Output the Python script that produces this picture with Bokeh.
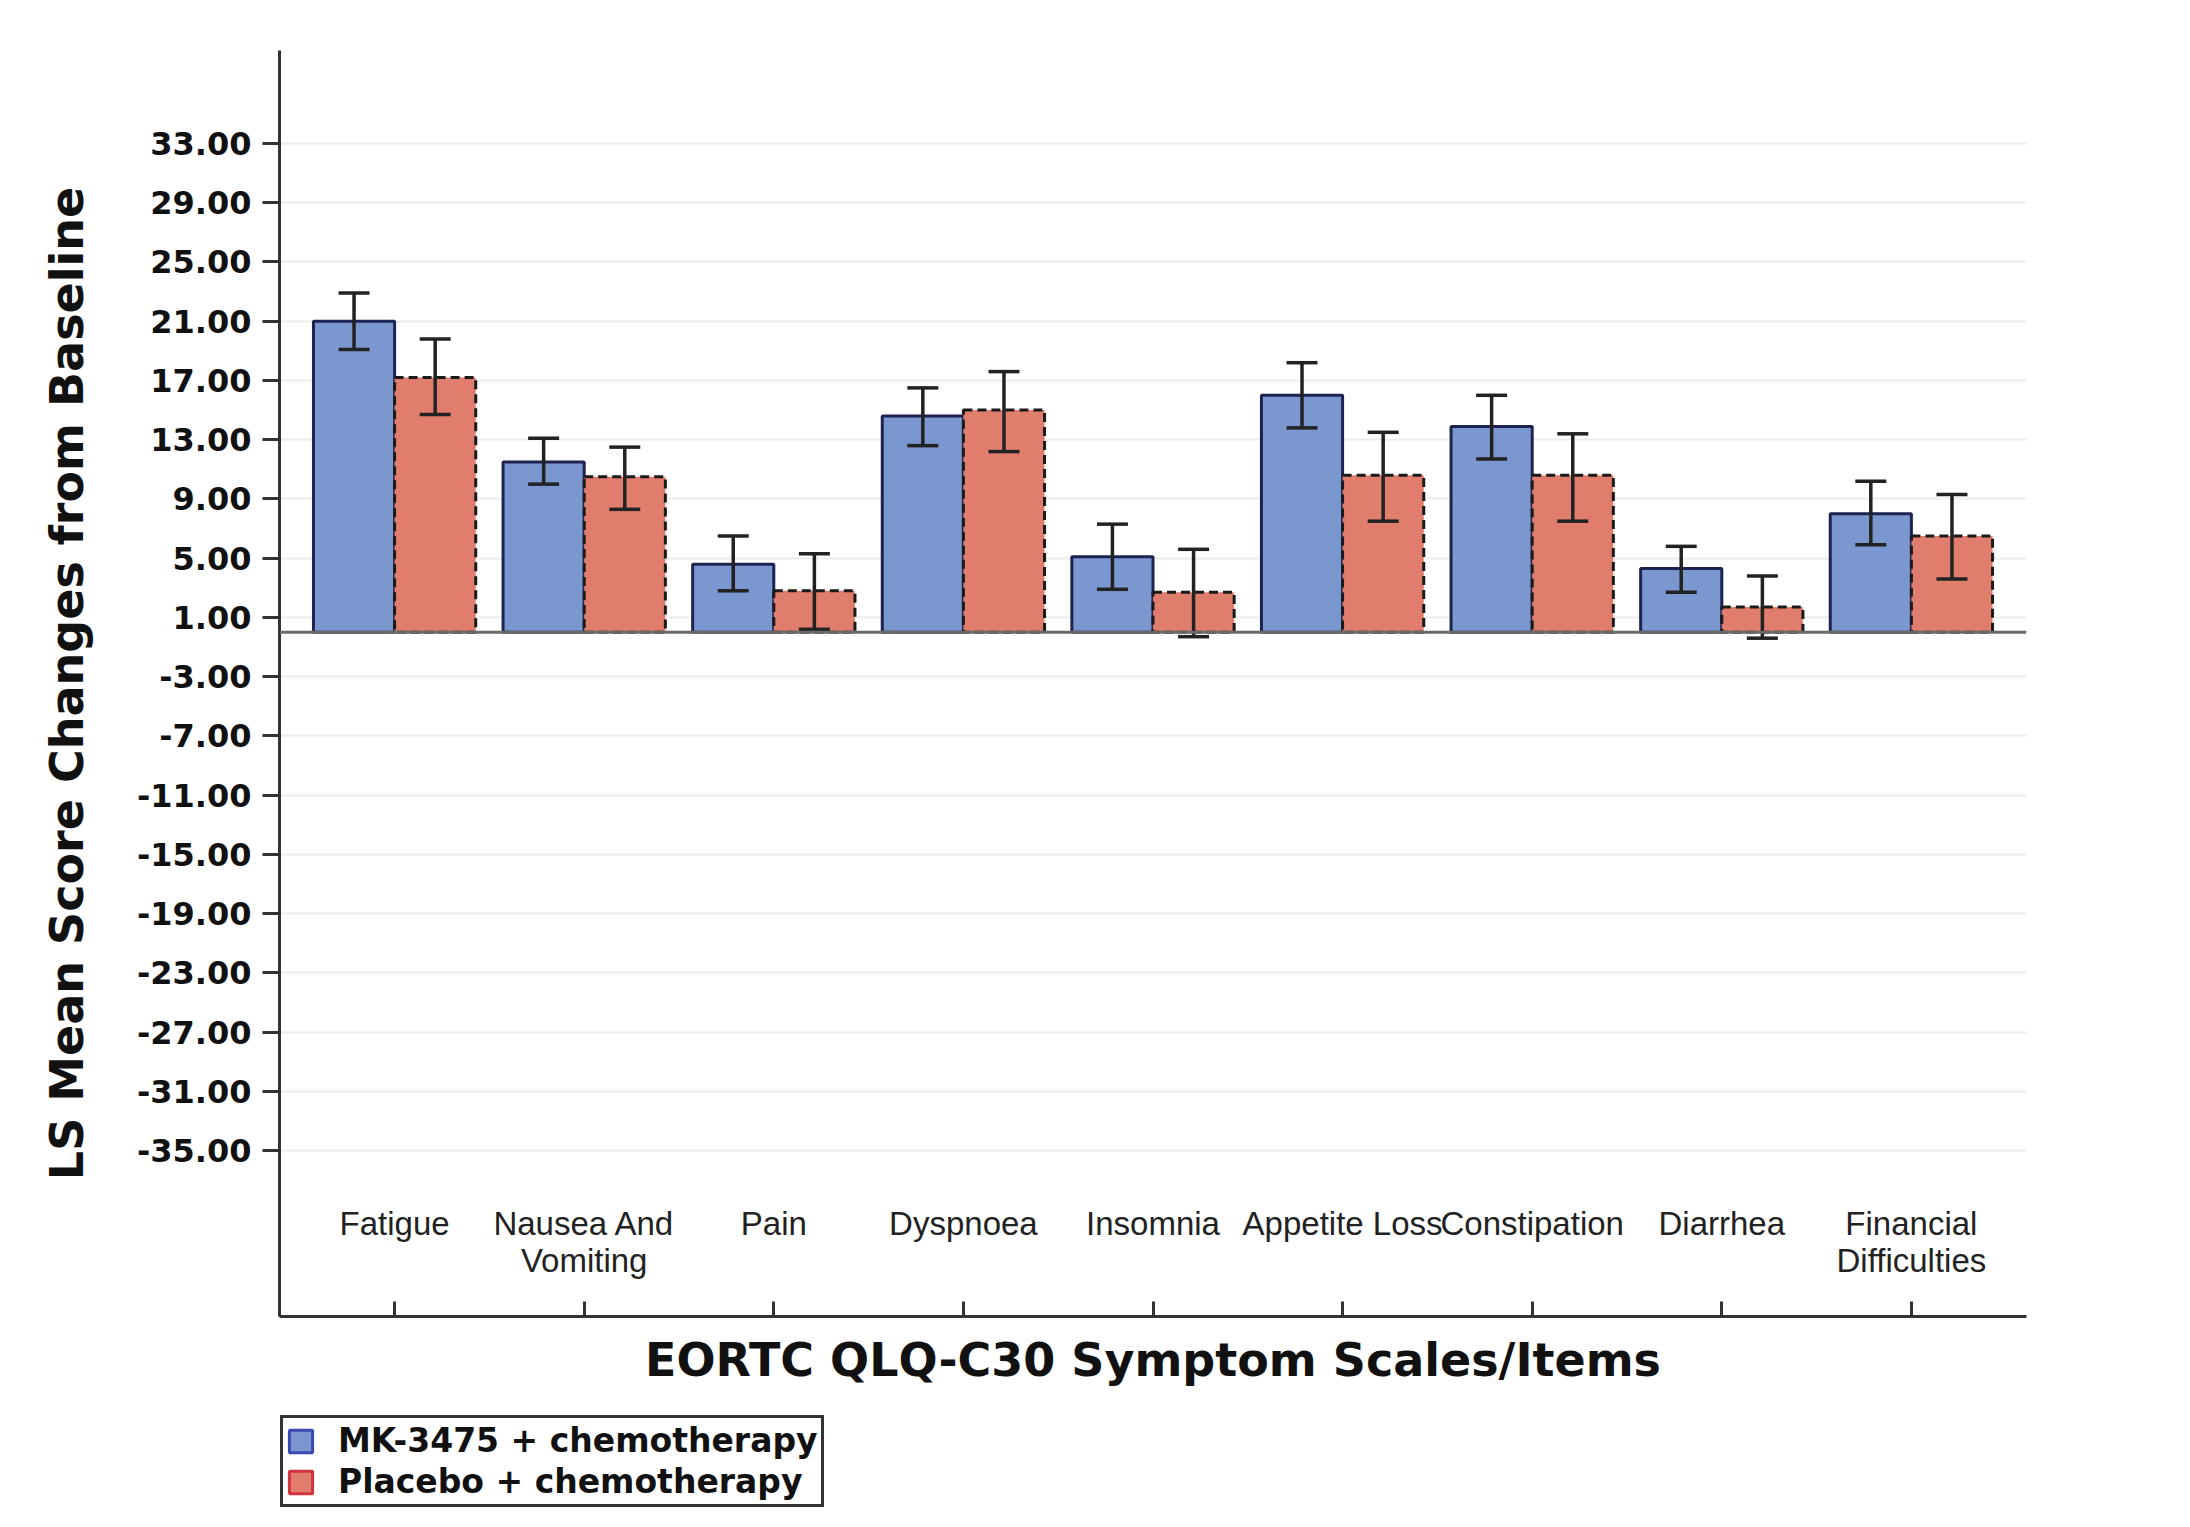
from bokeh.plotting import figure
from bokeh.layouts import column
from bokeh.models import (FactorRange, Range1d, ColumnDataSource, Span, FixedTicker,
                          PrintfTickFormatter, Legend, LegendItem)
from bokeh.transform import dodge
from bokeh.embed import file_html
from bokeh.resources import INLINE

categories = ["Fatigue", "Nausea And\nVomiting", "Pain", "Dyspnoea", "Insomnia",
              "Appetite Loss", "Constipation", "Diarrhea", "Financial\nDifficulties"]
mk_mean = [21.0, 11.5, 4.6, 14.6, 5.1, 16.0, 13.9, 4.3, 8.0]
mk_lower = [19.1, 10.0, 2.8, 12.6, 2.9, 13.8, 11.7, 2.7, 5.9]
mk_upper = [22.9, 13.1, 6.5, 16.5, 7.3, 18.2, 16.0, 5.8, 10.2]
pl_mean = [17.2, 10.5, 2.8, 15.0, 2.7, 10.6, 10.6, 1.7, 6.5]
pl_lower = [14.7, 8.3, 0.2, 12.2, -0.3, 7.5, 7.5, -0.4, 3.6]
pl_upper = [19.8, 12.5, 5.3, 17.6, 5.6, 13.5, 13.4, 3.8, 9.3]
y_ticks = [33, 29, 25, 21, 17, 13, 9, 5, 1, -3, -7, -11, -15, -19, -23, -27, -31, -35]
series_names = ["MK-3475 + chemotherapy", "Placebo + chemotherapy"]

source = ColumnDataSource(dict(cat=categories, mk=mk_mean, mk_lo=mk_lower, mk_hi=mk_upper,
                               pl=pl_mean, pl_lo=pl_lower, pl_hi=pl_upper))

H1 = 1410
p = figure(width=2174, height=H1, output_backend="svg", toolbar_location=None,
           x_range=FactorRange(*categories, range_padding=0.0238, range_padding_units="percent"),
           y_range=Range1d(-46.2, 39.28),
           min_border_left=279, min_border_right=148, min_border_top=50,
           min_border_bottom=H1 - 1316)
p.outline_line_color = None
p.background_fill_color = "white"

BW = 0.428
OFF = 0.214
blue = "#7b97cf"
red = "#e17d6d"

r_mk = p.vbar(x=dodge("cat", -OFF, range=p.x_range), top="mk", bottom=0, width=BW, source=source,
              fill_color=blue, line_color="#1c2350", line_width=3)
r_pl = p.vbar(x=dodge("cat", OFF, range=p.x_range), top="pl", bottom=0, width=BW, source=source,
              fill_color=red, line_color="#1a1a1a", line_width=3, line_dash="9 5")

for off, lo, hi in [(-OFF, "mk_lo", "mk_hi"), (OFF, "pl_lo", "pl_hi")]:
    xs = dodge("cat", off, range=p.x_range)
    p.segment(x0=xs, x1=xs, y0=lo, y1=hi, source=source, line_color="#222222", line_width=3.5)
    p.scatter(x=xs, y=lo, marker="dash", size=31, source=source, line_color="#222222", line_width=3.5)
    p.scatter(x=xs, y=hi, marker="dash", size=31, source=source, line_color="#222222", line_width=3.5)

p.add_layout(Span(location=0, dimension="width", line_color="#6a6a6a", line_width=3))

# grid
p.xgrid.visible = False
p.ygrid.ticker = FixedTicker(ticks=y_ticks)
p.ygrid.grid_line_color = "#ececec"
p.ygrid.grid_line_width = 2

# y axis
ya = p.yaxis[0]
ya.ticker = FixedTicker(ticks=y_ticks)
ya.formatter = PrintfTickFormatter(format="%.2f")
ya.minor_tick_line_color = None
ya.major_tick_in = 0
ya.major_tick_out = 17
ya.major_tick_line_width = 3
ya.major_tick_line_color = "#333333"
ya.axis_line_width = 3
ya.axis_line_color = "#333333"
ya.major_label_standoff = 11
ya.major_label_text_font = "DejaVu Sans"
ya.major_label_text_font_style = "bold"
ya.major_label_text_font_size = "32px"
ya.major_label_text_color = "#111111"
ya.axis_label = "LS Mean Score Changes from Baseline"
ya.axis_label_text_font = "DejaVu Sans"
ya.axis_label_text_font_style = "bold"
ya.axis_label_text_font_size = "46px"
ya.axis_label_text_color = "#111111"
ya.axis_label_standoff = 40

# x axis
xa = p.xaxis[0]
xa.major_tick_in = 15
xa.major_tick_out = 0
xa.major_tick_line_width = 3
xa.major_tick_line_color = "#333333"
xa.axis_line_width = 3
xa.axis_line_color = "#333333"
xa.major_label_standoff = -112
xa.major_label_text_font = "Liberation Sans"
xa.major_label_text_font_size = "33px"
xa.major_label_text_line_height = 1.0
xa.major_label_text_color = "#222222"
xa.axis_label = "EORTC QLQ-C30 Symptom Scales/Items"
xa.axis_label_text_font = "DejaVu Sans"
xa.axis_label_text_font_style = "bold"
xa.axis_label_text_font_size = "46px"
xa.axis_label_text_color = "#111111"
xa.axis_label_standoff = 51

# legend strip below the chart (its frame is aligned with the chart's frame)
H2 = 101
pl = figure(width=2174, height=H2, output_backend="svg", toolbar_location=None,
            x_range=Range1d(0, 1), y_range=Range1d(0, 1),
            x_axis_type=None, y_axis_type=None,
            min_border_left=0, min_border_right=0, min_border_top=0, min_border_bottom=0)
pl.outline_line_color = None
pl.grid.visible = False
lg_mk = pl.vbar(x="mk", top="mk", width=0.1, source=source, visible=False,
                fill_color=blue, line_color="#3a4ab0", line_width=3)
lg_pl = pl.vbar(x="pl", top="pl", width=0.1, source=source, visible=False,
                fill_color=red, line_color="#d0343e", line_width=3)

legend = Legend(items=[LegendItem(label=series_names[0], renderers=[lg_mk]),
                       LegendItem(label=series_names[1], renderers=[lg_pl])],
                location=(1, 4), margin=0, padding=3, spacing=2,
                glyph_width=29, glyph_height=28, label_standoff=23,
                label_text_font="DejaVu Sans", label_text_font_style="bold",
                label_text_font_size="33px", label_text_color="#111111",
                border_line_color="#333333", border_line_width=3, border_line_alpha=1.0,
                inactive_fill_alpha=0.0,
                background_fill_color="white", background_fill_alpha=1.0)
pl.add_layout(legend)

open("out.html", "w").write(file_html(column(p, pl, spacing=0), INLINE))
